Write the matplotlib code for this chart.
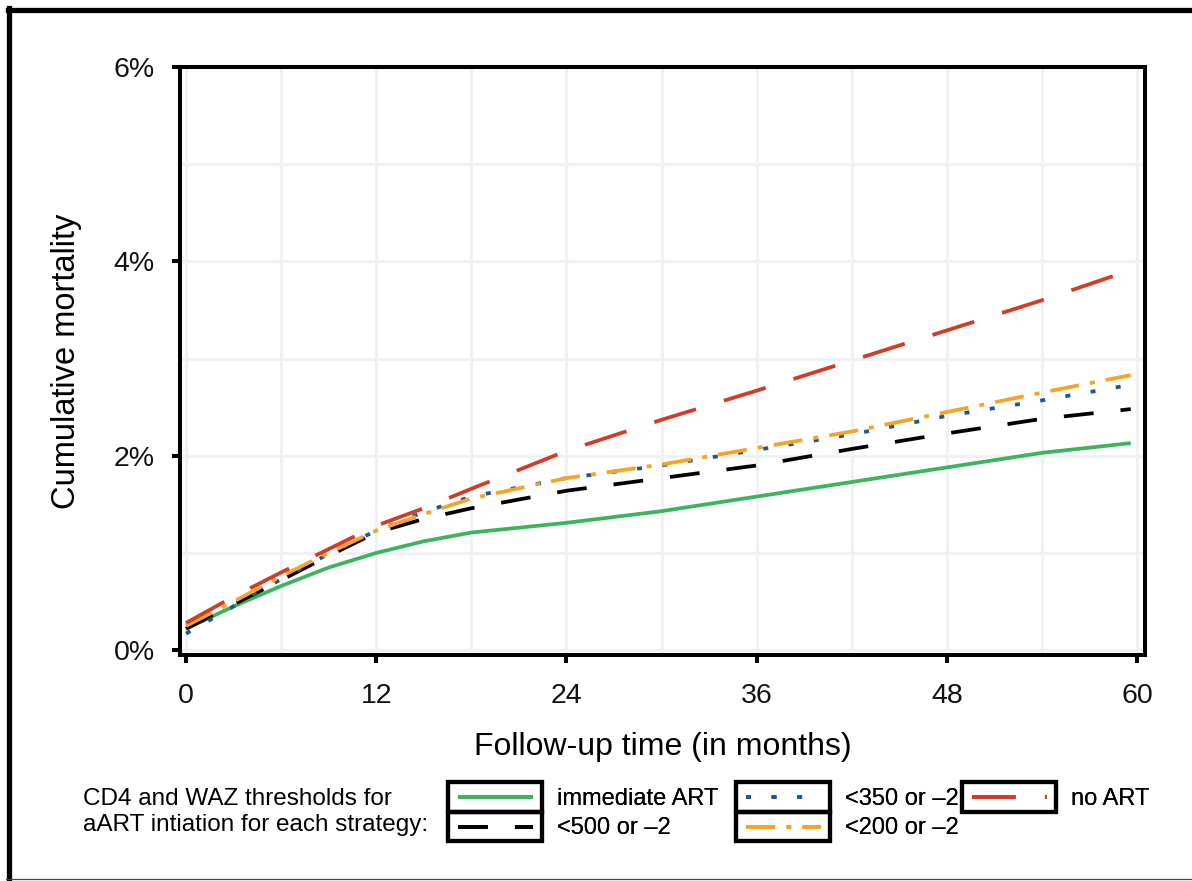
import matplotlib
matplotlib.use("Agg")
import matplotlib.pyplot as plt
from matplotlib.patches import Rectangle
from matplotlib.lines import Line2D
from matplotlib.legend_handler import HandlerBase

months = [0, 3, 6, 9, 12, 15, 18, 24, 30, 36, 42, 48, 54, 59.6]
immediate = [0.22, 0.45, 0.66, 0.85, 1.00, 1.12, 1.21, 1.31, 1.43, 1.58,
             1.73, 1.88, 2.03, 2.13]
cd4_500 = [0.22, 0.47, 0.72, 0.97, 1.21, 1.35, 1.46, 1.64, 1.77, 1.90,
           2.07, 2.23, 2.38, 2.48]
cd4_350 = [0.17, 0.45, 0.73, 0.99, 1.23, 1.42, 1.58, 1.77, 1.90, 2.06,
           2.22, 2.41, 2.57, 2.73]
cd4_200 = [0.25, 0.50, 0.76, 1.00, 1.23, 1.40, 1.56, 1.77, 1.91, 2.08,
           2.25, 2.45, 2.65, 2.83]
no_art = [0.28, 0.55, 0.80, 1.04, 1.28, 1.46, 1.66, 2.05, 2.37, 2.67,
          2.98, 3.29, 3.60, 3.91]

labels = ["immediate ART", "<500 or \u20132", "<350 or \u20132",
          "<200 or \u20132", "no ART"]
colors = ["#3cb55a", "#000000", "#1b5797", "#f7a324", "#d23c27"]
dashes = [None, (21.5, 19.5), (3.6, 14.8), (21, 8, 3.6, 8), (31.5, 21)]
x_ticks = [0, 12, 24, 36, 48, 60]
y_ticks = [0, 2, 4, 6]

plt.rcParams['font.family'] = ['Liberation Sans', 'DejaVu Sans']
plt.rcParams['lines.scale_dashes'] = False


class BoxedLine(HandlerBase):
    """legend key: short line inside a black box, like the ggplot keys"""
    def create_artists(self, legend, orig_handle, xdescent, ydescent,
                       width, height, fontsize, trans):
        pad = 0.42 * fontsize
        yc = -ydescent + height / 2
        ln = Line2D([-xdescent + pad, -xdescent + width - pad], [yc, yc])
        self.update_prop(ln, orig_handle, legend)
        ln.set_transform(trans)
        box = Rectangle((-xdescent, -ydescent), width, height,
                        fill=False, ec='black', lw=3.0, transform=trans)
        return [box, ln]


W, H = 1192, 881
fig = plt.figure(figsize=(W / 100, H / 100), dpi=100)
ax = fig.add_axes([180 / W, 1 - 655 / H, 965 / W, 588 / H])

series = [immediate, cd4_500, cd4_350, cd4_200, no_art]
handles = []
for vals, lab, col, d in zip(series, labels, colors, dashes):
    line, = ax.plot(months, vals, color=col, lw=2.7, label=lab,
                    solid_capstyle='butt', dash_capstyle='butt')
    if d is not None:
        line.set_dashes(d)
    handles.append(line)

ax.set_xlim(-0.38, 60.5)
ax.set_ylim(-0.05, 6.0)
ax.set_xticks(x_ticks)
ax.set_yticks(y_ticks)
ax.set_yticklabels([f"{v}%" for v in y_ticks])
ax.set_xticks([6, 18, 30, 42, 54], minor=True)
ax.set_yticks([1, 3, 5], minor=True)
ax.grid(True, which='both', color='#eff1f4', lw=2.2, zorder=0)
ax.set_axisbelow(True)
ax.tick_params(which='major', length=6, width=2.9, color='black',
               labelsize=20.5, labelcolor='#111111')
ax.tick_params(axis='y', pad=12)
ax.tick_params(axis='x', pad=14)
ax.tick_params(which='minor', length=0)
for s in ax.spines.values():
    s.set_linewidth(2.9)
    s.set_color('black')

ax.set_xlabel("Follow-up time (in months)", fontsize=23, va='center')
ax.xaxis.set_label_coords(0.5, -0.157)
ax.set_ylabel("Cumulative mortality", fontsize=23.5, va='center')
ax.yaxis.set_label_coords(-0.118, 0.5)

# legend
fig.text(83 / W, 1 - 812 / H,
         "CD4 and WAZ thresholds for\naART intiation for each strategy:",
         fontsize=17.5, ha='left', va='center', linespacing=1.25)
groups = [([0, 1], 448), ([2, 3], 736), ([4], 962)]
for idx, x0 in groups:
    leg = fig.legend([handles[i] for i in idx], [labels[i] for i in idx],
                     loc='upper left', bbox_to_anchor=(x0 / W, 1 - 782 / H),
                     frameon=False, fontsize=17, handlelength=4.0,
                     handleheight=1.56, labelspacing=0.0,
                     handletextpad=0.6, borderpad=0, borderaxespad=0,
                     handler_map={Line2D: BoxedLine()})
    fig.add_artist(leg)

# outer frame
fig.add_artist(Line2D([8 / W, 1.0], [1 - 9.5 / H, 1 - 9.5 / H],
                      transform=fig.transFigure, color='black', lw=3.8))
fig.add_artist(Line2D([8.5 / W, 8.5 / W], [1 - 8 / H, 1 - 878 / H],
                      transform=fig.transFigure, color='black', lw=3.8))
fig.add_artist(Line2D([6 / W, 1.0], [1 - 878.5 / H, 1 - 878.5 / H],
                      transform=fig.transFigure, color='#444444', lw=0.9))

fig.savefig("out.png", dpi=100)
